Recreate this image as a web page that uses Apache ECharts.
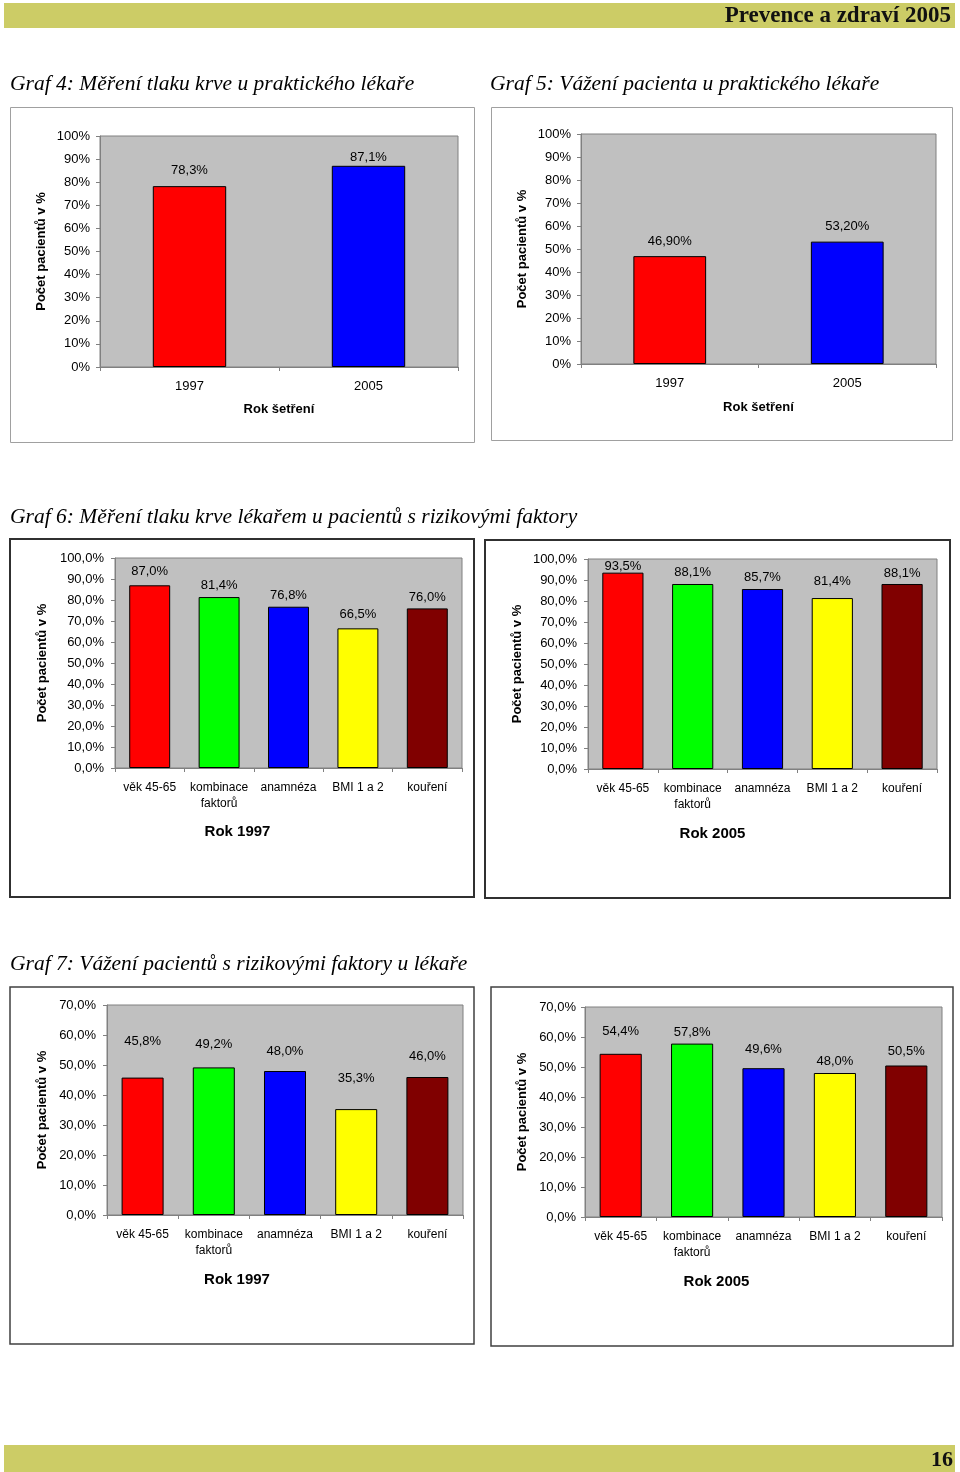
<!DOCTYPE html>
<html>
<head>
<meta charset="utf-8">
<script src="https://cdn.jsdelivr.net/npm/echarts@6/dist/echarts.min.js"></script>
<style>
  html, body { margin: 0; padding: 0; background: #fff; }
  #page { width: 960px; height: 1472px; }
</style>
</head>
<body>
<div id="page"></div>
<script>
// ---------------- data ----------------
const years = ['1997', '2005'];
const g4Values = [78.3, 87.1];           // Graf 4: měření tlaku krve
const g5Values = [46.9, 53.2];           // Graf 5: vážení pacienta
const riskFactors = ['věk 45-65', 'kombinace\nfaktorů', 'anamnéza', 'BMI 1 a 2', 'kouření'];
const g6Values1997 = [87.0, 81.4, 76.8, 66.5, 76.0];
const g6Values2005 = [93.5, 88.1, 85.7, 81.4, 88.1];
const g7Values1997 = [45.8, 49.2, 48.0, 35.3, 46.0];
const g7Values2005 = [54.4, 57.8, 49.6, 48.0, 50.5];
const yMaxPercent = 100;   // graphs 4-6 axis top
const yMaxPercentG7 = 70;  // graph 7 axis top
const yStep = 10;

// ---------------- styling ----------------
const barPalette2 = ['#FF0000', '#0000FF'];
const barPalette5 = ['#FF0000', '#00FF00', '#0000FF', '#FFFF00', '#800000'];
const SANS = "'Liberation Sans', Arial, sans-serif";
const SERIF = "'Liberation Serif', 'Times New Roman', serif";

const pct = (v, dec) => v.toFixed(dec).replace('.', ',') + '%';

// label lift (px, extra upward shift) — layout tweaks only
const lift = {
  g4: [4, -3], g5: [3, 4],
  g6a: [2, 0, 0, 2, -1], g6b: [-5, 0, 0, 5, -1],
  g7a: [25, 11, 8, 19, 9], g7b: [11, 0, 7, 0, 3]
};

const charts = [
  { key: 'g4', cats: years, vals: g4Values, pal: barPalette2, max: yMaxPercent, tickDec: 0, labDec: 1,
    grid: { left: 100, top: 136, width: 358, height: 231 }, barW: '41%',
    xName: 'Rok šetření', xNameSize: 13, xNameGap: 36, xNameShift: 0, yNameGap: 52, yLabMargin: 10, xLabMargin: 11, catFont: 13 },
  { key: 'g5', cats: years, vals: g5Values, pal: barPalette2, max: yMaxPercent, tickDec: 0, labDec: 2,
    grid: { left: 581, top: 134, width: 355, height: 230 }, barW: '41%',
    xName: 'Rok šetření', xNameSize: 13, xNameGap: 37, xNameShift: 0, yNameGap: 52, yLabMargin: 10, xLabMargin: 11, catFont: 13 },
  { key: 'g6a', cats: riskFactors, vals: g6Values1997, pal: barPalette5, max: yMaxPercent, tickDec: 1, labDec: 1,
    grid: { left: 115, top: 558, width: 347, height: 210 }, barW: '59%',
    xName: 'Rok 1997', xNameSize: 15, xNameGap: 56, xNameShift: 51, yNameGap: 66, yLabMargin: 11, xLabMargin: 12, catFont: 12 },
  { key: 'g6b', cats: riskFactors, vals: g6Values2005, pal: barPalette5, max: yMaxPercent, tickDec: 1, labDec: 1,
    grid: { left: 588, top: 559, width: 349, height: 210 }, barW: '59%',
    xName: 'Rok 2005', xNameSize: 15, xNameGap: 57, xNameShift: 50, yNameGap: 64, yLabMargin: 11, xLabMargin: 12, catFont: 12 },
  { key: 'g7a', cats: riskFactors, vals: g7Values1997, pal: barPalette5, max: yMaxPercentG7, tickDec: 1, labDec: 1,
    grid: { left: 107, top: 1005, width: 356, height: 210 }, barW: '59%',
    xName: 'Rok 1997', xNameSize: 15, xNameGap: 57, xNameShift: 48, yNameGap: 58, yLabMargin: 11, xLabMargin: 12, catFont: 12 },
  { key: 'g7b', cats: riskFactors, vals: g7Values2005, pal: barPalette5, max: yMaxPercentG7, tickDec: 1, labDec: 1,
    grid: { left: 585, top: 1007, width: 357, height: 210 }, barW: '59%',
    xName: 'Rok 2005', xNameSize: 15, xNameGap: 57, xNameShift: 47, yNameGap: 56, yLabMargin: 9, xLabMargin: 12, catFont: 12 }
];

const grid = [], xAxis = [], yAxis = [], series = [];
charts.forEach((c, i) => {
  grid.push(Object.assign({
    show: true, backgroundColor: '#C0C0C0', borderColor: '#808080', borderWidth: 1, containLabel: false
  }, c.grid));
  xAxis.push({
    type: 'category', gridIndex: i, data: c.cats,
    axisLine: { show: true, lineStyle: { color: '#808080', width: 1 } },
    axisTick: { show: true, length: 4, lineStyle: { color: '#808080' } },
    axisLabel: { color: '#000', fontFamily: SANS, fontSize: c.catFont, margin: c.xLabMargin, lineHeight: 16, interval: 0 },
    name: c.xName, nameLocation: 'middle', nameGap: c.xNameGap,
    nameTextStyle: { color: '#000', fontFamily: SANS, fontSize: c.xNameSize, fontWeight: 'bold',
      padding: [0, c.xNameShift * 2, 0, 0] },
    splitLine: { show: false }
  });
  yAxis.push({
    type: 'value', gridIndex: i, min: 0, max: c.max, interval: yStep,
    axisLine: { show: true, lineStyle: { color: '#808080', width: 1 } },
    axisTick: { show: true, length: 4, lineStyle: { color: '#808080' } },
    axisLabel: { color: '#000', fontFamily: SANS, fontSize: 13, margin: c.yLabMargin,
      formatter: v => pct(v, c.tickDec) },
    splitLine: { show: false },
    name: 'Počet pacientů v %', nameLocation: 'middle', nameGap: c.yNameGap, nameRotate: 90,
    nameTextStyle: { color: '#000', fontFamily: SANS, fontSize: 13, fontWeight: 'bold' }
  });
  series.push({
    type: 'bar', xAxisIndex: i, yAxisIndex: i, barWidth: c.barW,
    data: c.vals.map((v, k) => ({
      value: v,
      label: { offset: [0, -lift[c.key][k]] }
    })),
    itemStyle: {
      color: p => c.pal[p.dataIndex % c.pal.length],
      borderColor: '#000', borderWidth: 1
    },
    label: {
      show: true, position: 'top', distance: 5, color: '#000',
      fontFamily: SANS, fontSize: 13, formatter: p => pct(p.value, c.labDec)
    },
    animation: false
  });
});

const titleStyle = (x, y, text, size) => ({
  type: 'text', left: x, top: y,
  style: { text, fill: '#000', font: 'italic ' + size + 'px ' + SERIF }
});
const box = (x, y, w, h, color, lw) => ({
  type: 'rect', shape: { x, y, width: w, height: h }, z: 0,
  style: { fill: 'none', stroke: color, lineWidth: lw }
});

const graphic = [
  { type: 'rect', shape: { x: 4, y: 3, width: 951, height: 25 }, style: { fill: '#CCCC66' } },
  { type: 'text', right: 9, top: 5, style: { text: 'Prevence a zdraví 2005', fill: '#111', font: 'bold 23px ' + SERIF } },
  { type: 'rect', shape: { x: 4, y: 1445, width: 951, height: 27 }, style: { fill: '#CCCC66' } },
  { type: 'text', right: 7, top: 1449, style: { text: '16', fill: '#111', font: 'bold 22px ' + SERIF } },
  titleStyle(10, 73, 'Graf 4: Měření tlaku krve u praktického lékaře', 21.5),
  titleStyle(490, 73, 'Graf 5: Vážení pacienta u praktického lékaře', 21.5),
  titleStyle(10, 506, 'Graf 6: Měření tlaku krve lékařem u pacientů s rizikovými faktory', 21.5),
  titleStyle(10, 953, 'Graf 7: Vážení pacientů s rizikovými faktory u lékaře', 21.5),
  box(10.5, 107.5, 464, 335, '#A0A0A0', 1),
  box(491.5, 107.5, 461, 333, '#A0A0A0', 1),
  box(10, 539, 464, 358, '#303030', 2),
  box(485, 540, 465, 358, '#303030', 2),
  box(10, 987, 464, 357, '#404040', 1.5),
  box(491, 987, 462, 359, '#404040', 1.5)
];

const chart = echarts.init(document.getElementById('page'), null, { renderer: 'canvas', width: 960, height: 1472 });
chart.setOption({
  backgroundColor: '#fff',
  animation: false,
  grid, xAxis, yAxis, series, graphic
});
</script>
</body>
</html>
